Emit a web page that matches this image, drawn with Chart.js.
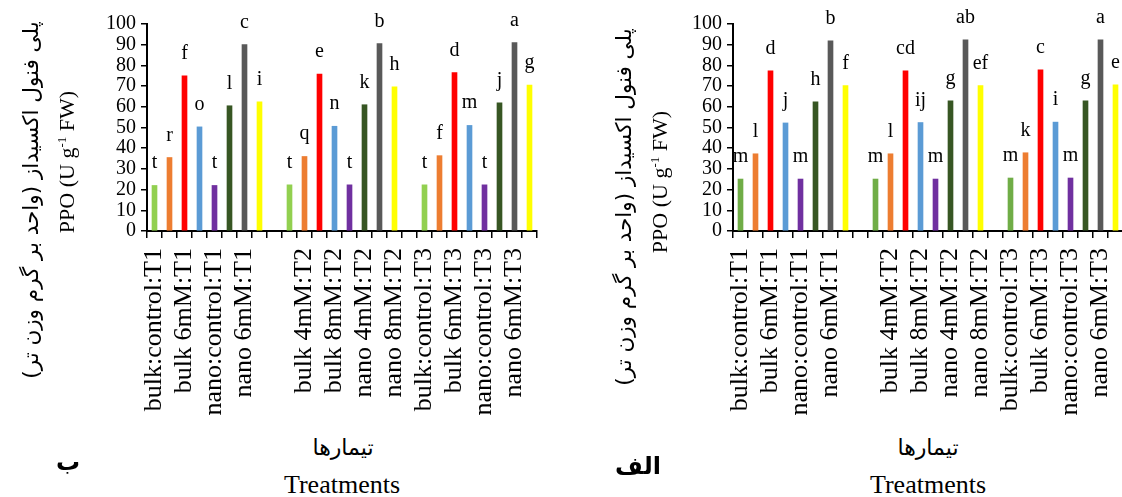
<!DOCTYPE html>
<html lang="fa">
<head>
  <meta charset="UTF-8">
  <title>PPO - Treatments</title>
  <script src="https://cdn.jsdelivr.net/npm/chart.js"></script>
  <style>
    body { margin: 0; width: 1122px; height: 497px; overflow: hidden; background: #fff; position: relative; font-family: "Liberation Serif", "Times New Roman", serif; color: #000; }
    canvas { position: absolute; top: 0; }
    .rot { position: absolute; white-space: nowrap; transform: translate(-50%, -50%) rotate(-90deg); }
    .lbl { position: absolute; white-space: nowrap; transform: translate(-50%, -50%); }
    .fa { font-family: "DejaVu Sans", sans-serif; font-size: 21.5px; }
    .fa2 { font-family: "DejaVu Sans", sans-serif; font-size: 22px; }
    .en { font-size: 22px; }
    .en sup { font-size: 13px; }
    .big { font-size: 26px; }
    .tag { font-family: "DejaVu Sans", sans-serif; font-weight: bold; font-size: 24px; }
  </style>
</head>
<body>
  <canvas id="chartB" width="561" height="420" style="left:0"></canvas>
  <canvas id="chartA" width="580" height="420" style="left:561px"></canvas>

  <div class="rot fa" style="left:30px; top:200px">پلی فنول اکسیداز (واحد بر گرم وزن تر)</div>
  <div class="rot en" style="left:67px; top:162px">PPO (U g<sup>-1</sup> FW)</div>
  <div class="lbl fa2" style="left:343px; top:447px">تیمارها</div>
  <div class="lbl big" style="left:342px; top:485px">Treatments</div>
  <div class="lbl tag" style="left:68px; top:462px">ب</div>

  <div class="rot fa" style="left:623px; top:207px">پلی فنول اکسیداز (واحد بر گرم وزن تر)</div>
  <div class="rot en" style="left:660px; top:182px">PPO (U g<sup>-1</sup> FW)</div>
  <div class="lbl fa2" style="left:928px; top:447px">تیمارها</div>
  <div class="lbl big" style="left:928px; top:485px">Treatments</div>
  <div class="lbl tag" style="left:638px; top:466px">الف</div>

  <script>
    const treatments = ['bulk:control', 'bulk 4mM', 'bulk 6mM', 'bulk 8mM', 'nano:control', 'nano 4mM', 'nano 6mM', 'nano 8mM'];
    const times = ['T1', 'T2', 'T3'];

    // panel ب (left)
    const ppoB_T1 = [22, 35.5, 75, 50.3, 22, 60.5, 90, 62.4];
    const ppoB_T2 = [22.3, 36, 75.8, 50.6, 22.3, 61, 90.5, 69.6];
    const ppoB_T3 = [22.3, 36.4, 76.5, 51, 22.3, 61.9, 91, 70.5];
    const lettersB_T1 = ['t', 'r', 'f', 'o', 't', 'l', 'c', 'i'];
    const lettersB_T2 = ['t', 'q', 'e', 'n', 't', 'k', 'b', 'h'];
    const lettersB_T3 = ['t', 'f', 'd', 'm', 't', 'j', 'a', 'g'];

    // panel الف (right)
    const ppoA_T1 = [25.1, 37.3, 77.4, 52.2, 25.1, 62.4, 91.9, 70.2];
    const ppoA_T2 = [25.1, 37.3, 77.4, 52.4, 25.1, 62.9, 92.4, 70.2];
    const ppoA_T3 = [25.6, 37.8, 77.9, 52.6, 25.6, 62.9, 92.4, 70.6];
    const lettersA_T1 = ['m', 'l', 'd', 'j', 'm', 'h', 'b', 'f'];
    const lettersA_T2 = ['m', 'l', 'cd', 'ij', 'm', 'g', 'ab', 'ef'];
    const lettersA_T3 = ['m', 'k', 'c', 'i', 'm', 'g', 'a', 'e'];

    const colorsB = ['#92D050', '#ED7D31', '#FF0000', '#5B9BD5', '#7030A0', '#375623', '#595959', '#FFFF00'];
    const colorsA = ['#70AD47', '#ED7D31', '#FF0000', '#5B9BD5', '#7030A0', '#375623', '#595959', '#FFFF00'];

    // one empty category between the time groups
    function joinGroups(g1, g2, g3, gap) {
      return [...g1, gap, ...g2, gap, ...g3];
    }

    const categories = joinGroups(
      treatments.map(t => t + ':' + times[0]),
      treatments.map(t => t + ':' + times[1]),
      treatments.map(t => t + ':' + times[2]), '');

    const letterPlugin = {
      id: 'letters',
      afterDatasetsDraw(chart) {
        const letters = chart.config.options.plugins.letters.items;
        const meta = chart.getDatasetMeta(0);
        const ctx = chart.ctx;
        ctx.save();
        ctx.font = '20px "Liberation Serif"';
        ctx.fillStyle = '#000';
        ctx.textAlign = 'center';
        ctx.textBaseline = 'alphabetic';
        letters.forEach((t, i) => {
          if (!t) return;
          const bar = meta.data[i];
          ctx.fillText(t, bar.x, bar.y - 17);
        });
        ctx.restore();
      }
    };

    function makeChart(id, values, colors, letters, axisWidth, padRight) {
      return new Chart(document.getElementById(id), {
        type: 'bar',
        data: {
          labels: categories,
          datasets: [{
            data: values,
            backgroundColor: colors,
            barThickness: 5,
            borderWidth: 0
          }]
        },
        options: {
          responsive: false,
          animation: false,
          layout: { padding: { top: 24, right: padRight, left: 0, bottom: 0 } },
          plugins: {
            legend: { display: false },
            tooltip: { enabled: false },
            letters: { items: letters }
          },
          scales: {
            x: {
              grid: { drawOnChartArea: false, offset: true, tickLength: 7, color: '#000', lineWidth: 1.5 },
              border: { color: '#000', width: 2 },
              ticks: {
                autoSkip: false,
                minRotation: 90,
                maxRotation: 90,
                padding: 10,
                color: '#000',
                font: { family: 'Liberation Serif', size: 26 },
                callback(v, i) { return i % 2 === 0 ? this.getLabelForValue(v) : ''; }
              },
              afterFit(s) { s.height = 189; s.paddingLeft = 0; s.paddingRight = 0; }
            },
            y: {
              min: 0,
              max: 100,
              grid: { drawOnChartArea: false, tickLength: 6, color: '#000', lineWidth: 1.5 },
              border: { color: '#000', width: 2 },
              ticks: {
                stepSize: 10,
                autoSkip: false,
                padding: 5,
                color: '#000',
                font: { family: 'Liberation Serif', size: 20 }
              },
              afterFit(s) { s.width = axisWidth; }
            }
          }
        },
        plugins: [letterPlugin]
      });
    }

    const barColorsB = joinGroups(colorsB, colorsB, colorsB, null);
    const barColorsA = joinGroups(colorsA, colorsA, colorsA, null);

    makeChart('chartB',
      joinGroups(ppoB_T1, ppoB_T2, ppoB_T3, null), barColorsB,
      joinGroups(lettersB_T1, lettersB_T2, lettersB_T3, ''), 147, 24);
    makeChart('chartA',
      joinGroups(ppoA_T1, ppoA_T2, ppoA_T3, null), barColorsA,
      joinGroups(lettersA_T1, lettersA_T2, lettersA_T3, ''), 172, 18);
  </script>
</body>
</html>
